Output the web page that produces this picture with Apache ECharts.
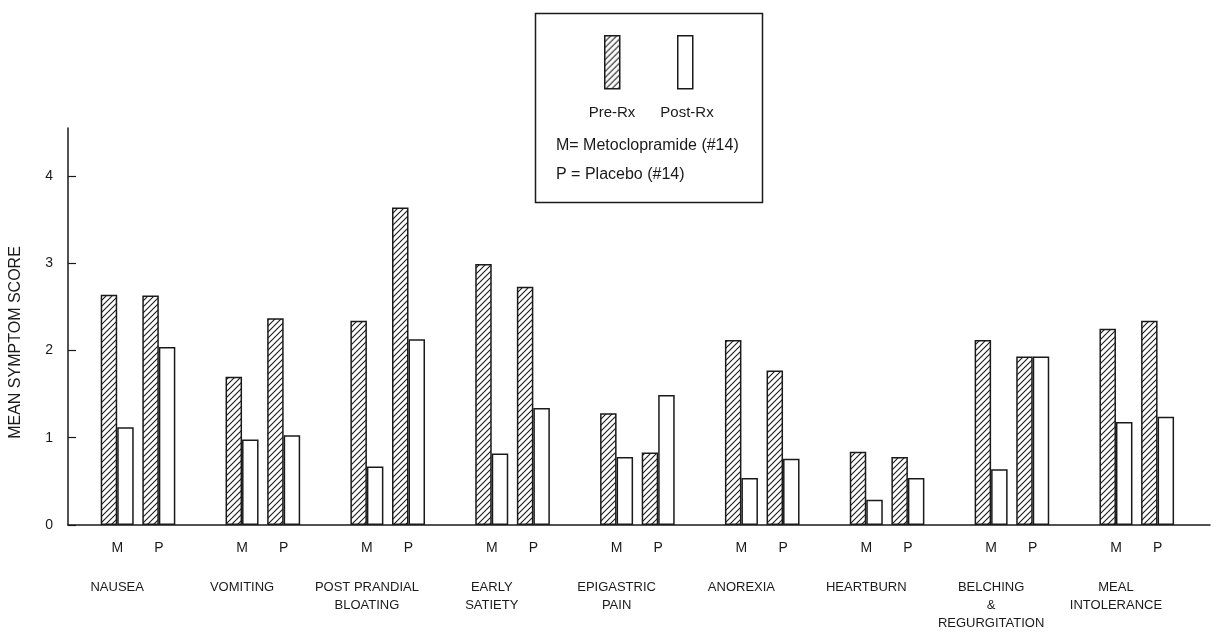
<!DOCTYPE html>
<html>
<head>
<meta charset="utf-8">
<script src="https://cdn.jsdelivr.net/npm/echarts@6/dist/echarts.min.js"></script>
<style>
  html, body { margin: 0; padding: 0; background: #fff; }
  #chart { width: 1220px; height: 636px; }
</style>
</head>
<body>
<div id="chart"></div>
<script>
// ---- data ----
const symptoms = ['NAUSEA', 'VOMITING', 'POST PRANDIAL\nBLOATING', 'EARLY\nSATIETY', 'EPIGASTRIC\nPAIN', 'ANOREXIA', 'HEARTBURN', 'BELCHING\n&\nREGURGITATION', 'MEAL\nINTOLERANCE'];
const groupLabels = ['M', 'P'];
const metoPre   = [2.64, 1.70, 2.34, 2.99, 1.28, 2.12, 0.84, 2.12, 2.25];
const metoPost  = [1.12, 0.98, 0.67, 0.82, 0.78, 0.54, 0.29, 0.64, 1.18];
const placPre   = [2.63, 2.37, 3.64, 2.73, 0.83, 1.77, 0.78, 1.93, 2.34];
const placPost  = [2.04, 1.03, 2.13, 1.34, 1.49, 0.76, 0.54, 1.93, 1.24];
const yTicks = [0, 1, 2, 3, 4];
const seriesNames = ['Pre-Rx', 'Post-Rx'];
const legendNotes = ['M= Metoclopramide (#14)', 'P = Placebo (#14)'];
const yTitle = 'MEAN SYMPTOM SCORE';

// ---- build slots (M, P, gap per symptom) ----
const slotLabels = [], nameLabels = [], preData = [], postData = [];
symptoms.forEach((s, i) => {
  slotLabels.push(groupLabels[0], groupLabels[1], '');
  nameLabels.push(s, '', '');
  preData.push(metoPre[i], placPre[i], '-');
  postData.push(metoPost[i], placPost[i], '-');
});

// hatch pattern
function makeHatch() {
  const c = document.createElement('canvas');
  const n = 6;
  c.width = n; c.height = n;
  const ctx = c.getContext('2d');
  ctx.fillStyle = '#fff';
  ctx.fillRect(0, 0, n, n);
  ctx.strokeStyle = '#1a1a1a';
  ctx.lineWidth = 1.1;
  ctx.beginPath();
  ctx.moveTo(0, n); ctx.lineTo(n, 0);
  ctx.moveTo(-1, 1); ctx.lineTo(1, -1);
  ctx.moveTo(n - 1, n + 1); ctx.lineTo(n + 1, n - 1);
  ctx.stroke();
  return c;
}
const hatch = { image: makeHatch(), repeat: 'repeat' };

const FONT = "'Liberation Sans', Arial, sans-serif";
const INK = '#1a1a1a';

const chart = echarts.init(document.getElementById('chart'), null, { renderer: 'canvas' });
const yMax = 4.55;

chart.setOption({
  backgroundColor: '#fff',
  animation: false,
  textStyle: { fontFamily: FONT, color: INK },
  grid: [
    { left: 67, right: 10, top: 128, bottom: 111, containLabel: false },
    { left: 96.4, width: 1130.5, top: 128, bottom: 111, containLabel: false }
  ],
  xAxis: [
    { gridIndex: 0, type: 'value', min: 0, max: 1,
      axisLine: { show: true, lineStyle: { color: INK, width: 1.5 } },
      axisTick: { show: false }, axisLabel: { show: false }, splitLine: { show: false } },
    { gridIndex: 1, type: 'category', data: slotLabels, boundaryGap: true,
      axisLine: { show: false }, axisTick: { show: false }, splitLine: { show: false },
      axisLabel: { interval: 0, margin: 16, fontSize: 14, color: INK, fontFamily: FONT } },
    { gridIndex: 1, type: 'category', data: nameLabels, boundaryGap: true, position: 'bottom',
      axisLine: { show: false }, axisTick: { show: false }, splitLine: { show: false },
      axisLabel: { interval: 0, margin: 53, fontSize: 13, lineHeight: 18, color: INK, fontFamily: FONT } }
  ],
  yAxis: [
    { gridIndex: 0, type: 'value', min: 0, max: yMax, interval: 1,
      name: yTitle, nameLocation: 'middle', nameGap: 44,
      nameTextStyle: { fontSize: 16, color: INK, fontFamily: FONT, padding: [0, 32, 0, 0] },
      axisLine: { show: true, lineStyle: { color: INK, width: 1.5 } },
      axisTick: { show: true, inside: true, length: 8, customValues: yTicks, lineStyle: { color: INK, width: 1.2 } },
      axisLabel: { margin: 15, fontSize: 14, color: INK, customValues: yTicks },
      splitLine: { show: false } },
    { gridIndex: 1, type: 'value', min: 0, max: yMax, show: false, splitLine: { show: false } }
  ],
  series: [
    { name: seriesNames[0], type: 'bar', xAxisIndex: 1, yAxisIndex: 1, data: preData,
      barWidth: 16.5, barGap: '0%',
      itemStyle: { color: hatch, borderColor: INK, borderWidth: 1.5 } },
    { name: seriesNames[1], type: 'bar', xAxisIndex: 1, yAxisIndex: 1, data: postData,
      barWidth: 16.5, barGap: '0%',
      itemStyle: { color: '#fff', borderColor: INK, borderWidth: 1.5 } }
  ],
  graphic: [
    { type: 'rect', left: 533, top: 11, shape: { width: 227, height: 189 },
      style: { fill: 'none', stroke: INK, lineWidth: 1.5 } },
    { type: 'rect', left: 604, top: 35, shape: { width: 15, height: 53 },
      style: { fill: hatch, stroke: INK, lineWidth: 1.5 } },
    { type: 'rect', left: 677, top: 35, shape: { width: 15, height: 53 },
      style: { fill: '#fff', stroke: INK, lineWidth: 1.5 } },
    { type: 'text', x: 612, y: 113, style: { text: seriesNames[0], fill: INK, font: "15px 'Liberation Sans', Arial, sans-serif", align: 'center', verticalAlign: 'middle' } },
    { type: 'text', x: 687, y: 113, style: { text: seriesNames[1], fill: INK, font: "15px 'Liberation Sans', Arial, sans-serif", align: 'center', verticalAlign: 'middle' } },
    { type: 'text', x: 556, y: 146, style: { text: legendNotes[0], fill: INK, font: "16px 'Liberation Sans', Arial, sans-serif", align: 'left', verticalAlign: 'middle' } },
    { type: 'text', x: 556, y: 175, style: { text: legendNotes[1], fill: INK, font: "16px 'Liberation Sans', Arial, sans-serif", align: 'left', verticalAlign: 'middle' } }
  ]
});
</script>
</body>
</html>
